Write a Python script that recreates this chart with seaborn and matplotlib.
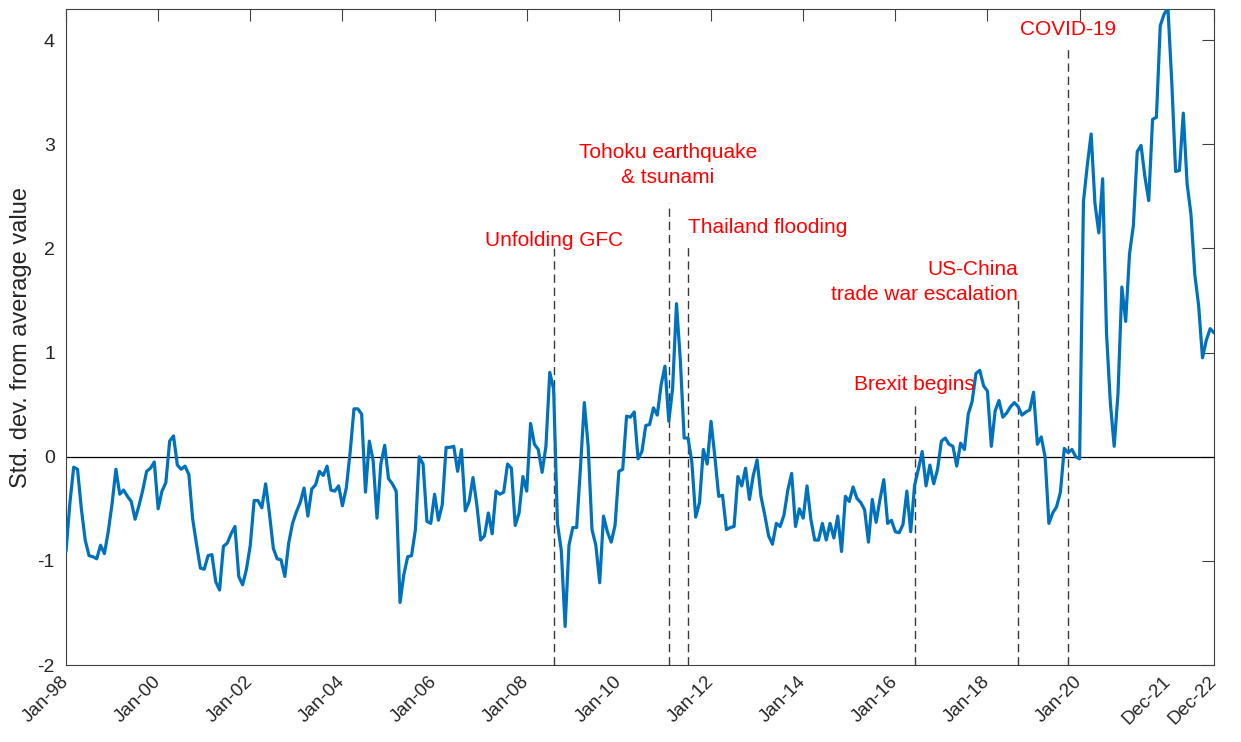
import matplotlib
matplotlib.use("Agg")
import matplotlib.pyplot as plt
import matplotlib.transforms as mtransforms
import numpy as np
import pandas as pd
import seaborn as sns

# Monthly series, Jan-1998 .. Dec-2022 (std. dev. from average value)
months = pd.date_range("1998-01-01", "2022-12-01", freq="MS")
std_dev = [
    -0.91, -0.45, -0.10, -0.12, -0.50, -0.80, -0.95, -0.96, -0.98, -0.85, -0.93, -0.72,  # 1998
    -0.45, -0.12, -0.36, -0.32, -0.38, -0.43, -0.60, -0.47, -0.32, -0.14, -0.11, -0.05,  # 1999
    -0.50, -0.33, -0.25, 0.15, 0.20, -0.08, -0.12, -0.09, -0.17, -0.60, -0.84, -1.07,    # 2000
    -1.08, -0.95, -0.94, -1.20, -1.28, -0.86, -0.83, -0.74, -0.67, -1.15, -1.23, -1.08,  # 2001
    -0.85, -0.42, -0.42, -0.49, -0.26, -0.55, -0.88, -0.98, -0.99, -1.15, -0.83, -0.64,  # 2002
    -0.53, -0.44, -0.30, -0.57, -0.31, -0.27, -0.14, -0.18, -0.09, -0.32, -0.33, -0.28,  # 2003
    -0.47, -0.30, 0.04, 0.46, 0.46, 0.41, -0.34, 0.15, -0.04, -0.59, -0.07, 0.11,        # 2004
    -0.21, -0.26, -0.33, -1.40, -1.13, -0.96, -0.95, -0.70, 0.00, -0.07, -0.62, -0.64,   # 2005
    -0.36, -0.61, -0.46, 0.09, 0.09, 0.10, -0.14, 0.07, -0.52, -0.43, -0.20, -0.46,      # 2006
    -0.80, -0.76, -0.54, -0.74, -0.33, -0.36, -0.34, -0.07, -0.11, -0.66, -0.54, -0.19,  # 2007
    -0.33, 0.32, 0.12, 0.07, -0.15, 0.10, 0.81, 0.65, -0.64, -0.90, -1.63, -0.85,        # 2008
    -0.68, -0.68, -0.10, 0.52, 0.10, -0.70, -0.85, -1.21, -0.57, -0.72, -0.82, -0.66,    # 2009
    -0.14, -0.12, 0.39, 0.38, 0.43, -0.02, 0.05, 0.30, 0.31, 0.47, 0.40, 0.69,           # 2010
    0.87, 0.34, 0.66, 1.47, 0.93, 0.18, 0.18, -0.05, -0.58, -0.44, 0.07, -0.07,          # 2011
    0.34, 0.00, -0.38, -0.37, -0.70, -0.68, -0.67, -0.19, -0.28, -0.11, -0.41, -0.18,    # 2012
    -0.03, -0.38, -0.56, -0.76, -0.84, -0.64, -0.67, -0.56, -0.32, -0.16, -0.67, -0.50,  # 2013
    -0.59, -0.28, -0.60, -0.80, -0.80, -0.64, -0.80, -0.64, -0.78, -0.57, -0.91, -0.38,  # 2014
    -0.43, -0.29, -0.40, -0.44, -0.51, -0.82, -0.41, -0.63, -0.41, -0.22, -0.64, -0.61,  # 2015
    -0.72, -0.73, -0.65, -0.33, -0.72, -0.28, -0.12, 0.05, -0.28, -0.08, -0.26, -0.12,   # 2016
    0.15, 0.18, 0.12, 0.10, -0.09, 0.13, 0.07, 0.41, 0.53, 0.80, 0.83, 0.68,             # 2017
    0.63, 0.10, 0.44, 0.54, 0.38, 0.42, 0.48, 0.52, 0.48, 0.40, 0.43, 0.45,              # 2018
    0.62, 0.12, 0.19, 0.00, -0.64, -0.54, -0.48, -0.34, 0.08, 0.04, 0.07, 0.00,          # 2019
    -0.02, 2.45, 2.80, 3.10, 2.43, 2.15, 2.67, 1.19, 0.52, 0.10, 0.61, 1.63,             # 2020
    1.30, 1.95, 2.22, 2.93, 2.99, 2.69, 2.46, 3.24, 3.26, 4.14, 4.25, 4.31,              # 2021
    3.60, 2.74, 2.75, 3.30, 2.62, 2.33, 1.75, 1.45, 0.95, 1.12, 1.23, 1.19,              # 2022
]

tick_months = ["1998-01", "2000-01", "2002-01", "2004-01", "2006-01", "2008-01",
               "2010-01", "2012-01", "2014-01", "2016-01", "2018-01", "2020-01",
               "2021-12", "2022-12"]
tick_labels = ["Jan-98", "Jan-00", "Jan-02", "Jan-04", "Jan-06", "Jan-08",
               "Jan-10", "Jan-12", "Jan-14", "Jan-16", "Jan-18", "Jan-20",
               "Dec-21", "Dec-22"]

event_names = ["Unfolding GFC", "Tohoku earthquake\n& tsunami", "Thailand flooding",
               "Brexit begins", "US-China\ntrade war escalation", "COVID-19"]
event_months = ["2008-08", "2011-02", "2011-07", "2016-06", "2018-09", "2019-10"]

df = pd.DataFrame({"month": np.arange(len(months)), "value": std_dev})


def month_pos(label):
    return months.get_loc(pd.Timestamp(label + "-01"))


sns.set_style("white")
plt.rcParams["font.family"] = ["Liberation Sans", "DejaVu Sans"]

fig = plt.figure(figsize=(12.41, 7.42), dpi=100)
ax = fig.add_axes([66 / 1241, 1 - 665 / 742, (1214 - 66) / 1241, (665 - 9) / 742])

ax.axhline(0, color="black", lw=0.9, zorder=1)

# dashed event markers and their captions: (line top, text dx, text y, ha, multialign)
event_layout = [
    (2.00, 0.0, 2.08, "center", "center"),
    (2.44, -0.3, 2.80, "center", "center"),
    (2.03, 0.0, 2.20, "left", "left"),
    (0.50, 0.0, 0.69, "center", "center"),
    (1.53, 0.0, 1.68, "right", "right"),
    (3.95, 0.0, 4.10, "center", "center"),
]
for name, when, (top, dx, ty, ha, ma) in zip(event_names, event_months, event_layout):
    xpos = month_pos(when)
    ax.plot([xpos, xpos], [-2, top], color="#3a3a3a", lw=1.0,
            linestyle=(0, (6, 3.5)), zorder=2)
    ax.text(xpos + dx, ty, name, color="red", fontsize=15, ha=ha, va="center",
            multialignment=ma, linespacing=1.4, zorder=4)

sns.lineplot(data=df, x="month", y="value", color="#0072BD", lw=2.3, ax=ax, zorder=3)

ax.set_xlim(0, len(months) - 1)
ax.set_ylim(-2, 4.3)
ax.set_yticks([-2, -1, 0, 1, 2, 3, 4])
ax.set_yticklabels(["-2", "-1", "0", "1", "2", "3", "4"])
ax.set_xticks([month_pos(m) for m in tick_months])
ax.set_xticklabels(tick_labels, rotation=45, ha="right", va="center",
                   rotation_mode="anchor")
shift = mtransforms.ScaledTranslation(14 / 100, 0, fig.dpi_scale_trans)
for lbl in ax.get_xticklabels():
    lbl.set_transform(lbl.get_transform() + shift)

ax.set_xlabel("")
ax.set_ylabel("Std. dev. from average value", fontsize=17, color="#262626", labelpad=4)

ax.tick_params(axis="both", direction="in", length=8.5, width=0.8, color="#404040",
               labelcolor="#262626", top=True, right=True)
ax.tick_params(axis="x", labelsize=13.5, pad=10)
ax.tick_params(axis="y", labelsize=14, pad=8)
for sp in ax.spines.values():
    sp.set_visible(True)
    sp.set_color("#404040")
    sp.set_linewidth(0.8)

fig.savefig("out.png", dpi=100)
